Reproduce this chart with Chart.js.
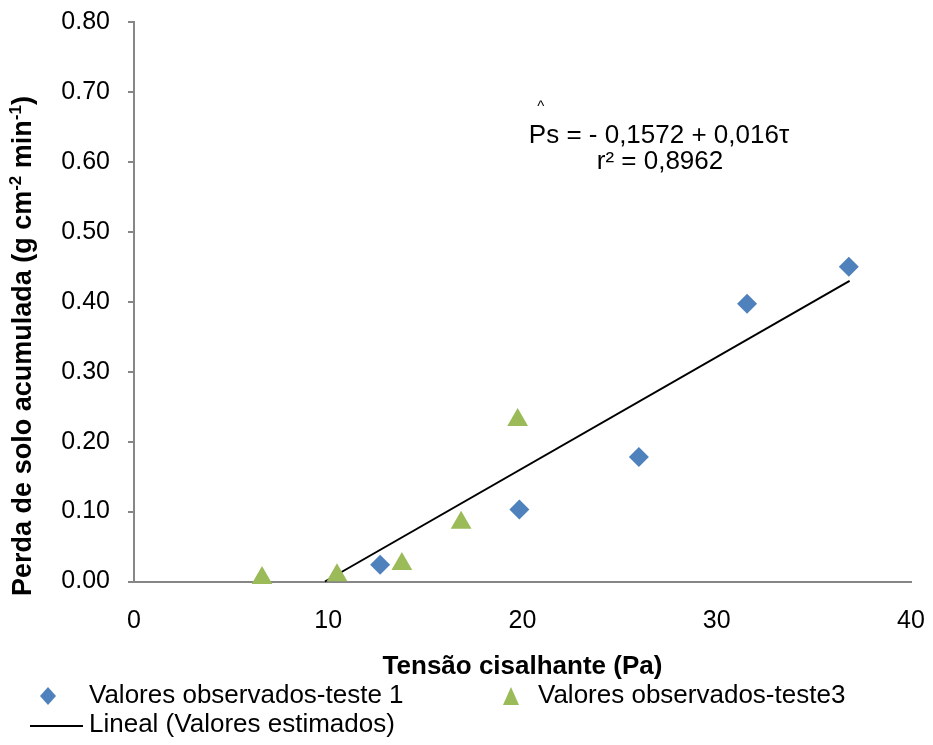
<!DOCTYPE html>
<html>
<head>
<meta charset="utf-8">
<title>Perda de solo acumulada</title>
<script src="https://cdn.jsdelivr.net/npm/chart.js@4/dist/chart.umd.min.js"></script>
<style>
  html, body { margin: 0; padding: 0; background: #fff; }
  #wrap { width: 933px; height: 745px; }
</style>
</head>
<body>
<div id="wrap"><canvas id="chart" width="933" height="745"></canvas></div>
<script>
"use strict";

// values
var teste1X = [12.67, 19.84, 25.99, 31.56, 36.8];
var teste1Y = [0.024, 0.103, 0.178, 0.397, 0.450];
var teste3X = [6.59, 10.45, 13.79, 16.84, 19.75];
var teste3Y = [0.005, 0.009, 0.025, 0.084, 0.231];
var linealX = [9.83, 36.84];
var linealY = [0.0, 0.430];
var xTicks = [0, 10, 20, 30, 40];
var yTicks = [0, 0.1, 0.2, 0.3, 0.4, 0.5, 0.6, 0.7, 0.8];

var blue = "#4F81BD";
var green = "#9BBB59";
var axisGray = "#868686";
var font = "'Liberation Sans', Arial, sans-serif";

function toPoints(xs, ys) {
  var pts = [];
  for (var i = 0; i < xs.length; i++) {
    pts.push({ x: xs[i], y: ys[i] });
  }
  return pts;
}

function drawYTitle(ctx) {
  var pieces = [
    { t: "Perda de solo acumulada (g cm", sup: false },
    { t: "-2", sup: true },
    { t: " min", sup: false },
    { t: "-1", sup: true },
    { t: ")", sup: false }
  ];
  var big = "bold 27px " + font;
  var small = "bold 17px " + font;
  var total = 0;
  pieces.forEach(function(p) {
    ctx.font = p.sup ? small : big;
    p.w = ctx.measureText(p.t).width;
    total += p.w;
  });
  ctx.save();
  ctx.translate(24, 346);
  ctx.rotate(-Math.PI / 2);
  ctx.fillStyle = "#000";
  ctx.textAlign = "left";
  ctx.textBaseline = "middle";
  var x = -total / 2;
  pieces.forEach(function(p) {
    ctx.font = p.sup ? small : big;
    ctx.fillText(p.t, x, p.sup ? -8 : 0);
    x += p.w;
  });
  ctx.restore();
}

function drawEquation(ctx) {
  var line1 = "Ps = - 0,1572 + 0,016\u03C4";
  var line2 = "r\u00B2 = 0,8962";
  ctx.fillStyle = "#000";
  ctx.textBaseline = "middle";
  ctx.textAlign = "center";
  ctx.font = "26px " + font;
  ctx.fillText(line1, 659, 136);
  ctx.fillText(line2, 660, 162);
  var start = 659 - ctx.measureText(line1).width / 2;
  ctx.font = "15px " + font;
  ctx.fillText("^", start + 12, 107);
}

function drawLegend(ctx) {
  ctx.fillStyle = blue;
  ctx.beginPath();
  ctx.moveTo(48, 687);
  ctx.lineTo(56, 696);
  ctx.lineTo(48, 705);
  ctx.lineTo(40, 696);
  ctx.closePath();
  ctx.fill();

  ctx.fillStyle = green;
  ctx.beginPath();
  ctx.moveTo(511, 687);
  ctx.lineTo(519, 705);
  ctx.lineTo(503, 705);
  ctx.closePath();
  ctx.fill();

  ctx.strokeStyle = "#000";
  ctx.lineWidth = 2;
  ctx.beginPath();
  ctx.moveTo(30, 726);
  ctx.lineTo(83, 726);
  ctx.stroke();

  ctx.fillStyle = "#000";
  ctx.font = "26px " + font;
  ctx.textAlign = "left";
  ctx.textBaseline = "middle";
  ctx.fillText("Valores observados-teste 1", 89, 696);
  ctx.fillText("Valores observados-teste3", 538, 696);
  ctx.fillText("Lineal (Valores estimados)", 89, 725);
}

var extrasPlugin = {
  id: "extras",
  afterDraw: function(chart) {
    var ctx = chart.ctx;
    ctx.save();
    drawYTitle(ctx);
    drawEquation(ctx);
    drawLegend(ctx);
    ctx.restore();
  }
};

var chartElem = document.getElementById("chart").getContext("2d");
new Chart(chartElem, {
  type: "scatter",
  data: {
    datasets: [
      {
        label: "Valores observados-teste 1",
        data: toPoints(teste1X, teste1Y),
        pointStyle: "rectRot",
        pointRadius: 10,
        backgroundColor: blue,
        borderColor: blue,
        borderWidth: 0,
        clip: false
      },
      {
        label: "Valores observados-teste3",
        data: toPoints(teste3X, teste3Y),
        pointStyle: "triangle",
        pointRadius: 12,
        backgroundColor: green,
        borderColor: green,
        borderWidth: 0,
        clip: false
      },
      {
        type: "line",
        label: "Lineal (Valores estimados)",
        data: toPoints(linealX, linealY),
        borderColor: "#000",
        borderWidth: 2,
        pointRadius: 0,
        fill: false,
        clip: false
      }
    ]
  },
  options: {
    responsive: false,
    animation: false,
    layout: { padding: { left: 0, top: 22, right: 22, bottom: 0 } },
    plugins: {
      legend: { display: false },
      tooltip: { enabled: false }
    },
    scales: {
      x: {
        type: "linear",
        min: 0,
        max: 40,
        afterBuildTicks: function(scale) {
          scale.ticks = xTicks.map(function(v) { return { value: v }; });
        },
        afterFit: function(scale) {
          scale.height = 163.5;
          scale.paddingLeft = 0;
          scale.paddingRight = 0;
        },
        grid: { display: false },
        border: { display: true, color: axisGray, width: 2 },
        ticks: {
          padding: 17,
          color: "#000",
          font: { family: font, size: 25 },
          maxRotation: 0
        },
        title: {
          display: true,
          text: "Tensão cisalhante (Pa)",
          color: "#000",
          font: { family: font, size: 26, weight: "bold" },
          padding: { top: 0, bottom: 63 }
        }
      },
      y: {
        type: "linear",
        min: 0,
        max: 0.8,
        afterBuildTicks: function(scale) {
          scale.ticks = yTicks.map(function(v) { return { value: v }; });
        },
        afterFit: function(scale) {
          scale.width = 134;
          scale.paddingTop = 0;
          scale.paddingBottom = 0;
        },
        grid: {
          display: true,
          drawOnChartArea: false,
          drawTicks: true,
          tickLength: 6,
          color: axisGray,
          lineWidth: 2
        },
        border: { display: true, color: axisGray, width: 2 },
        ticks: {
          padding: 18,
          color: "#000",
          font: { family: font, size: 25 },
          callback: function(value) {
            return Number(value).toFixed(2);
          }
        }
      }
    }
  },
  plugins: [extrasPlugin]
});
</script>
</body>
</html>
